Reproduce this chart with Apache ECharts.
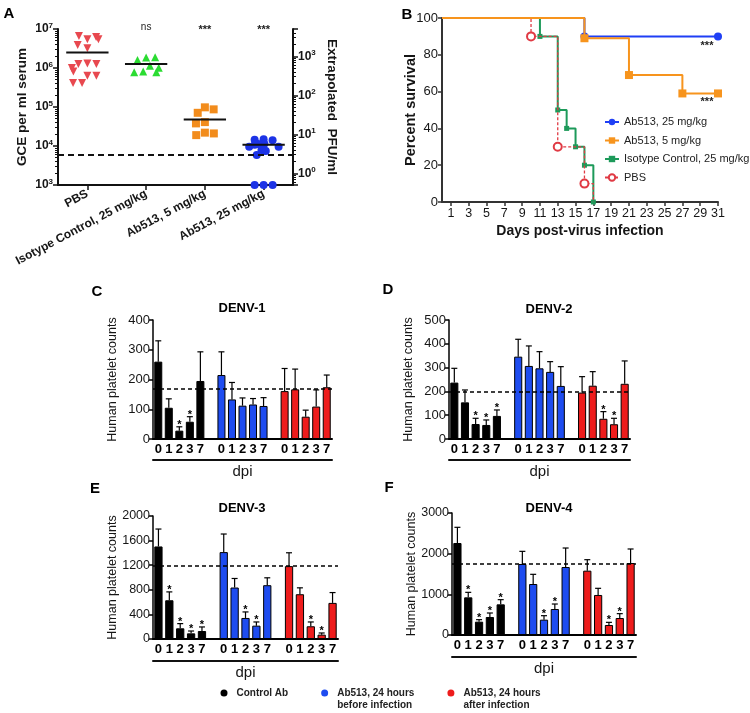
<!DOCTYPE html>
<html><head><meta charset="utf-8">
<script src="https://cdn.jsdelivr.net/npm/echarts@6/dist/echarts.min.js"></script>
<style>html,body{margin:0;padding:0;background:#fff}#c{width:750px;height:713px}</style>
</head><body><div id="c"></div>
<script>
// ---------- Panel A data ----------
const groupsA = ['PBS', 'Isotype Control, 25 mg/kg', 'Ab513, 5 mg/kg', 'Ab513, 25 mg/kg'];
const gcePBS = [5.5e6, 6.6e6, 6.2e6, 5.5e6, 3.2e6, 3.9e6, 1.3e6, 1.26e6, 1.26e6, 1.0e6, 8.1e5, 6.3e5, 6.3e5, 4.1e5, 4.1e5];
const gceIso = [1.86e6, 1.6e6, 1.9e6, 1.15e6, 1.02e6, 8.1e5, 7.8e5, 7.8e5];
const gceAb5 = [9.8e4, 7.1e4, 8.7e4, 4.1e4, 3.8e4, 2.2e4, 1.9e4, 2.1e4];
const gceAb25 = [1.48e4, 1.41e4, 1.45e4, 1.15e4, 1.12e4, 1.07e4, 9.5e3, 9.5e3, 8.3e3, 7.9e3, 7.6e3, 7.4e3, 5.9e3, 1000, 1000, 1000];
const mediansA = [2.5e6, 1.26e6, 4.8e4, 1.07e4];
const sigA = ['', 'ns', '***', '***'];
const detectionLimitA = 6000;
const gcePerPfu = 2000;
const gceMin = 1e3, gceMax = 1e7;

// ---------- Panel B data ----------
const survAb25 = [[0, 100], [16, 90], [31, 90]];
const survAb5 = [[0, 100], [16, 89], [21, 69], [27, 59], [31, 59]];
const survIso = [[0, 100], [11, 90], [13, 50], [14, 40], [15, 30], [16, 20], [17, 0]];
const survPBS = [[0, 100], [10, 90], [13, 30], [16, 10], [17, 0]];
const dayTicks = [1, 3, 5, 7, 9, 11, 13, 15, 17, 19, 21, 23, 25, 27, 29, 31];
const sigB = '***';

// ---------- Panels C-F data ----------
const dpiLabels = ['0', '1', '2', '3', '7'];
const groupNames = ['Control Ab', 'Ab513, 24 hours\nbefore infection', 'Ab513, 24 hours\nafter infection'];

const denv1Mean = [[260, 105, 28, 58, 195], [215, 133, 112, 116, 111], [161, 167, 75, 109, 174]];
const denv1Err  = [[70, 30, 13, 17, 98], [78, 57, 26, 20, 28], [76, 68, 22, 56, 41]];
const denv1Star = [[0, 0, 1, 1, 0], [0, 0, 0, 0, 0], [0, 0, 0, 0, 0]];
const denv1Base = 170;

const denv2Mean = [[237, 154, 63, 59, 97], [346, 307, 297, 282, 223], [195, 224, 85, 62, 232]];
const denv2Err  = [[60, 52, 24, 21, 25], [73, 84, 70, 43, 81], [67, 59, 30, 25, 96]];
const denv2Star = [[0, 0, 1, 1, 1], [0, 0, 0, 0, 0], [0, 0, 1, 1, 0]];
const denv2Base = 197;

const denv3Mean = [[1505, 630, 174, 92, 130], [1413, 837, 342, 217, 875], [1185, 728, 207, 71, 587]];
const denv3Err  = [[283, 136, 76, 38, 66], [294, 147, 98, 60, 120], [217, 104, 70, 27, 168]];
const denv3Star = [[0, 1, 1, 1, 1], [0, 0, 1, 1, 0], [0, 0, 1, 1, 0]];
const denv3Base = 1190;

const denv4Mean = [[2262, 926, 328, 443, 754], [1746, 1254, 377, 639, 1672], [1582, 984, 246, 418, 1770]];
const denv4Err  = [[386, 123, 49, 98, 115], [311, 238, 98, 123, 467], [270, 164, 65, 107, 345]];
const denv4Star = [[0, 1, 1, 1, 1], [0, 0, 1, 1, 0], [0, 0, 1, 1, 0]];
const denv4Base = 1750;

// ---------- styling ----------
const FONT = 'Liberation Sans, Arial, Helvetica, sans-serif';
const TXT = '#161616';
const colA = ['#e8484f', '#2bdc32', '#f28c1c', '#1c33e6'];
const symA = ['triangle', 'triangle', 'rect', 'circle'];
const rotA = [180, 0, 0, 0];
const colB = {ab25: '#1f3ff5', ab5: '#f7941d', iso: '#1d9a5a', pbs: '#e03a44'};
const colBar = ['#000000', '#1e4cf0', '#ee1c1c'];

const chart = echarts.init(document.getElementById('c'), null, {renderer: 'canvas'});

function powLabel(v) {
  const l = Math.log10(v);
  const e = Math.round(l);
  if (Math.abs(l - e) > 1e-6) return '';
  return '{b|10}{s|' + e + '}';
}
const powRich = {
  b: {fontSize: 12, fontWeight: 'bold', color: TXT, fontFamily: FONT, lineHeight: 15},
  s: {fontSize: 8, fontWeight: 'bold', color: TXT, fontFamily: FONT, verticalAlign: 'top', lineHeight: 9}
};
const plainNum = v => String(v);

// slots for bar panels: 5 bars, gap, 5 bars, gap, 5 bars
const slotLabels = [];
groupNames.forEach((g, gi) => {
  dpiLabels.forEach(d => slotLabels.push(d));
  if (gi < groupNames.length - 1) slotLabels.push('');
});
function slotIndex(g, j) { return g * (dpiLabels.length + 1) + j; }

const grids = [
  {left: 58, top: 29, width: 235, height: 156},
  {left: 442, top: 18, width: 276, height: 184},
  {left: 153, top: 320, width: 179, height: 119},
  {left: 449, top: 320, width: 181, height: 119},
  {left: 153, top: 516, width: 185, height: 123},
  {left: 452, top: 513, width: 184, height: 122}
].map(g => Object.assign({outerBoundsMode: 'none', containLabel: false}, g));

const xAxes = [];
const yAxes = [];
const series = [];

// ---------- Panel A ----------
xAxes.push({
  type: 'category', gridIndex: 0, data: groupsA,
  jitter: 32, jitterOverlap: false, jitterMargin: 1,
  axisLine: {show: true, lineStyle: {color: '#111', width: 2}},
  axisTick: {show: true, alignWithLabel: true, length: 5, lineStyle: {color: '#111', width: 1.5}},
  axisLabel: {interval: 0, rotate: 28, margin: 8, fontSize: 12, fontWeight: 'bold', color: TXT, fontFamily: FONT},
  splitLine: {show: false}
});
yAxes.push({
  type: 'log', gridIndex: 0, logBase: 10, min: gceMin, max: gceMax,
  axisLine: {show: true, lineStyle: {color: '#111', width: 2}},
  axisTick: {show: true, length: 5, lineStyle: {color: '#111', width: 1.5}},
  minorTick: {show: true, splitNumber: 9, length: 3, lineStyle: {color: '#111', width: 1}},
  axisLabel: {formatter: powLabel, rich: powRich, margin: 5},
  splitLine: {show: false}, minorSplitLine: {show: false},
  name: 'GCE per ml serum', nameLocation: 'middle', nameGap: 29, nameMoveOverlap: false,
  nameTextStyle: {fontSize: 13.5, fontWeight: 'bold', color: TXT, fontFamily: FONT}
});
yAxes.push({
  type: 'log', gridIndex: 0, logBase: 10, position: 'right',
  min: gceMin / gcePerPfu, max: gceMax / gcePerPfu,
  axisLine: {show: true, lineStyle: {color: '#111', width: 2}},
  axisTick: {show: true, length: 5, lineStyle: {color: '#111', width: 1.5}},
  minorTick: {show: true, splitNumber: 9, length: 3, lineStyle: {color: '#111', width: 1}},
  axisLabel: {formatter: powLabel, rich: powRich, margin: 5},
  splitLine: {show: false}, minorSplitLine: {show: false},
  name: 'Extrapolated  PFU/ml', nameLocation: 'middle', nameGap: 32, nameRotate: -90, nameMoveOverlap: false,
  nameTextStyle: {fontSize: 13.5, fontWeight: 'bold', color: TXT, fontFamily: FONT}
});
[gcePBS, gceIso, gceAb5, gceAb25].forEach((arr, gi) => {
  series.push({
    type: 'scatter', xAxisIndex: 0, yAxisIndex: 0, name: 'panelA-' + gi,
    symbol: symA[gi], symbolRotate: rotA[gi], symbolSize: 8,
    itemStyle: {color: colA[gi], opacity: 1},
    clip: false, z: 3,
    data: arr.map(v => [gi, v]),
    markLine: gi === 0 ? {
      silent: true, symbol: 'none', label: {show: false},
      lineStyle: {color: '#111', type: [6, 4], width: 2},
      data: [{yAxis: detectionLimitA}]
    } : undefined
  });
});
series.push({
  type: 'custom', xAxisIndex: 0, yAxisIndex: 0, z: 4, clip: false,
  data: mediansA.map((m, i) => [i, m]),
  renderItem: function (params, api) {
    const c = api.coord([api.value(0), api.value(1)]);
    const half = api.size([1, 0])[0] * 0.36;
    return {type: 'line', shape: {x1: c[0] - half, y1: c[1], x2: c[0] + half, y2: c[1]},
      style: {stroke: '#111', lineWidth: 2}};
  }
});
series.push({
  type: 'custom', xAxisIndex: 0, yAxisIndex: 0, z: 4, clip: false,
  data: sigA.map((s, i) => [i, gceMax]),
  renderItem: function (params, api) {
    const c = api.coord([api.value(0), api.value(1)]);
    const s = sigA[params.dataIndex];
    const star = s.indexOf('*') >= 0;
    return {type: 'text', style: {text: s, x: c[0], y: c[1] + (star ? 1 : -2), align: 'center', verticalAlign: 'middle',
      font: (star ? 'bold 11px ' : '10px ') + FONT, fill: '#222'}};
  }
});

// ---------- Panel B ----------
xAxes.push({
  type: 'value', gridIndex: 1, min: 0, max: 31,
  axisLine: {show: true, lineStyle: {color: '#333', width: 2}},
  axisTick: {show: true, customValues: dayTicks, length: 4, lineStyle: {color: '#333', width: 1.5}},
  axisLabel: {customValues: dayTicks, fontSize: 12.5, color: TXT, margin: 5, fontFamily: FONT},
  splitLine: {show: false},
  name: 'Days post-virus infection', nameLocation: 'middle', nameGap: 22, nameMoveOverlap: false,
  nameTextStyle: {fontSize: 14, fontWeight: 'bold', color: TXT, fontFamily: FONT}
});
yAxes.push({
  type: 'value', gridIndex: 1, min: 0, max: 100, interval: 20,
  axisLine: {show: true, lineStyle: {color: '#333', width: 2}},
  axisTick: {show: true, length: 4, lineStyle: {color: '#333', width: 1.5}},
  axisLabel: {fontSize: 13, color: TXT, margin: 4, fontFamily: FONT, formatter: plainNum},
  splitLine: {show: false},
  name: 'Percent survival', nameLocation: 'middle', nameGap: 24, nameMoveOverlap: false,
  nameTextStyle: {fontSize: 14.5, fontWeight: 'bold', color: TXT, fontFamily: FONT}
});
function kmData(arr, hideZero, sig, sigOffset) {
  return arr.map((p, i) => {
    const item = {value: p};
    if (p[0] === 0 || (hideZero && p[1] === 0)) item.symbolSize = 0;
    if (sig && i === arr.length - 1) {
      item.label = {show: true, formatter: sig, position: 'inside', offset: sigOffset,
        fontSize: 11, fontWeight: 'bold', color: '#222', fontFamily: FONT};
    }
    return item;
  });
}
const bLine = (name, color, symbol, size, data, z, dashed) => ({
  type: 'line', name: name, xAxisIndex: 1, yAxisIndex: 2, step: 'end', clip: false, z: z,
  symbol: symbol, symbolSize: size, showAllSymbol: true,
  lineStyle: {color: color, width: dashed ? 1.3 : 2, type: dashed ? [3, 2] : 'solid'},
  itemStyle: {color: color, borderColor: color, borderWidth: dashed ? 1.5 : 0},
  emphasis: {disabled: true},
  data: data
});
series.push(bLine('Isotype Control, 25 mg/kg', colB.iso, 'rect', 5, kmData(survIso, false), 3, false));
series.push(bLine('PBS', colB.pbs, 'emptyCircle', 8, kmData(survPBS, true), 4, true));
series.push(bLine('Ab513, 25 mg/kg', colB.ab25, 'circle', 8, kmData(survAb25, false, sigB, [-11, 10]), 5, false));
series.push(bLine('Ab513, 5 mg/kg', colB.ab5, 'rect', 8, kmData(survAb5, false, sigB, [-11, 9]), 6, false));

// ---------- Panels C-F ----------
const panels = [
  {mean: denv1Mean, err: denv1Err, star: denv1Star, base: denv1Base, max: 400, interval: 100, fs: 13, off: 21},
  {mean: denv2Mean, err: denv2Err, star: denv2Star, base: denv2Base, max: 500, interval: 100, fs: 13, off: 21},
  {mean: denv3Mean, err: denv3Err, star: denv3Star, base: denv3Base, max: 2000, interval: 400, fs: 12.5, off: 22},
  {mean: denv4Mean, err: denv4Err, star: denv4Star, base: denv4Base, max: 3000, interval: 1000, fs: 12.5, off: 22}
];
panels.forEach((p, pi) => {
  const gridIndex = 2 + pi;
  const xi = xAxes.length;
  xAxes.push({
    type: 'category', gridIndex: gridIndex, data: slotLabels,
    axisLine: {show: true, lineStyle: {color: '#000', width: 2}},
    axisTick: {show: false},
    axisLabel: {interval: 0, fontSize: 13, fontWeight: 'bold', color: '#000', margin: 4, fontFamily: FONT},
    splitLine: {show: false}
  });
  xAxes.push({
    type: 'category', gridIndex: gridIndex, data: slotLabels, position: 'bottom', offset: p.off,
    axisLine: {show: true, lineStyle: {color: '#111', width: 2}},
    axisTick: {show: false}, axisLabel: {show: false}, splitLine: {show: false},
    name: 'dpi', nameLocation: 'middle', nameGap: 4, nameMoveOverlap: false,
    nameTextStyle: {fontSize: 15, color: TXT, fontFamily: FONT, verticalAlign: 'top'}
  });
  const yi = yAxes.length;
  yAxes.push({
    type: 'value', gridIndex: gridIndex, min: 0, max: p.max, interval: p.interval,
    axisLine: {show: true, lineStyle: {color: '#000', width: 1.5}},
    axisTick: {show: true, length: 4, lineStyle: {color: '#000', width: 1.5}},
    axisLabel: {fontSize: p.fs, color: TXT, margin: 3, fontFamily: FONT, formatter: plainNum},
    splitLine: {show: false},
    name: 'Human platelet counts', nameLocation: 'middle', nameGap: 34, nameMoveOverlap: false,
    nameTextStyle: {fontSize: 12.5, color: TXT, fontFamily: FONT}
  });
  groupNames.forEach((gname, g) => {
    const data = slotLabels.map(() => null);
    p.mean[g].forEach((v, j) => { data[slotIndex(g, j)] = v; });
    series.push({
      type: 'bar', name: gname, xAxisIndex: xi, yAxisIndex: yi,
      barWidth: '76%', barGap: '-100%', z: 2,
      itemStyle: {color: colBar[g], borderColor: '#000', borderWidth: 1},
      emphasis: {disabled: true},
      data: data,
      markLine: g === 0 ? {
        silent: true, symbol: 'none', label: {show: false},
        lineStyle: {color: '#000', type: [4, 3], width: 1.5},
        data: [{yAxis: p.base}]
      } : undefined
    });
  });
  const errData = [];
  groupNames.forEach((gname, g) => {
    p.mean[g].forEach((v, j) => {
      errData.push([slotIndex(g, j), v, p.err[g][j], p.star[g][j]]);
    });
  });
  series.push({
    type: 'custom', xAxisIndex: xi, yAxisIndex: yi, z: 3, clip: false,
    data: errData,
    renderItem: function (params, api) {
      const x = api.value(0), v = api.value(1), e = api.value(2), st = api.value(3);
      const p0 = api.coord([x, v]);
      const p1 = api.coord([x, v + e]);
      const hw = 3;
      const children = [
        {type: 'line', shape: {x1: p0[0], y1: p0[1], x2: p1[0], y2: p1[1]}, style: {stroke: '#000', lineWidth: 1.2}},
        {type: 'line', shape: {x1: p1[0] - hw, y1: p1[1], x2: p1[0] + hw, y2: p1[1]}, style: {stroke: '#000', lineWidth: 1.2}}
      ];
      if (st) {
        children.push({type: 'text', style: {text: '*', x: p1[0], y: p1[1] - 2, align: 'center', verticalAlign: 'middle',
          font: 'bold 11px ' + FONT, fill: '#000'}});
      }
      return {type: 'group', children: children};
    }
  });
});

// ---------- titles ----------
const letter = (t, x, y) => ({text: t, left: x, top: y, padding: 0, textAlign: 'center',
  textStyle: {fontSize: 15, fontWeight: 'bold', color: '#000', fontFamily: FONT}});
const ptitle = (t, x, y) => ({text: t, left: x, top: y, padding: 0, textAlign: 'center',
  textStyle: {fontSize: 13, fontWeight: 'bold', color: '#000', fontFamily: FONT}});

const option = {
  animation: false,
  backgroundColor: '#fff',
  textStyle: {fontFamily: FONT},
  title: [
    letter('A', 9, 6), letter('B', 407, 7), letter('C', 97, 284), letter('D', 388, 282),
    letter('E', 95, 481), letter('F', 389, 480),
    ptitle('DENV-1', 242, 302), ptitle('DENV-2', 549, 303), ptitle('DENV-3', 242, 502), ptitle('DENV-4', 549, 502)
  ],
  legend: [
    {
      data: ['Ab513, 25 mg/kg', 'Ab513, 5 mg/kg', 'Isotype Control, 25 mg/kg', 'PBS'],
      orient: 'vertical', left: 604, top: 116.5, padding: 0, itemWidth: 14, itemHeight: 8, itemGap: 7.5,
      selectedMode: false,
      textStyle: {fontSize: 11, color: '#222', fontFamily: FONT}
    },
    {
      data: groupNames, orient: 'horizontal', left: 220.5, top: 675, padding: 0,
      icon: 'circle', itemWidth: 7, itemHeight: 7, itemGap: 33, selectedMode: false,
      itemStyle: {borderWidth: 0},
      formatter: n => (n.indexOf('\n') >= 0 ? '\n' + n : n),
      textStyle: {fontSize: 10, fontWeight: 'bold', lineHeight: 12, color: '#222', fontFamily: FONT, padding: [0, 0, 0, 4]}
    }
  ],
  grid: grids,
  xAxis: xAxes,
  yAxis: yAxes,
  series: series
};
chart.setOption(option);
</script>
</body></html>
